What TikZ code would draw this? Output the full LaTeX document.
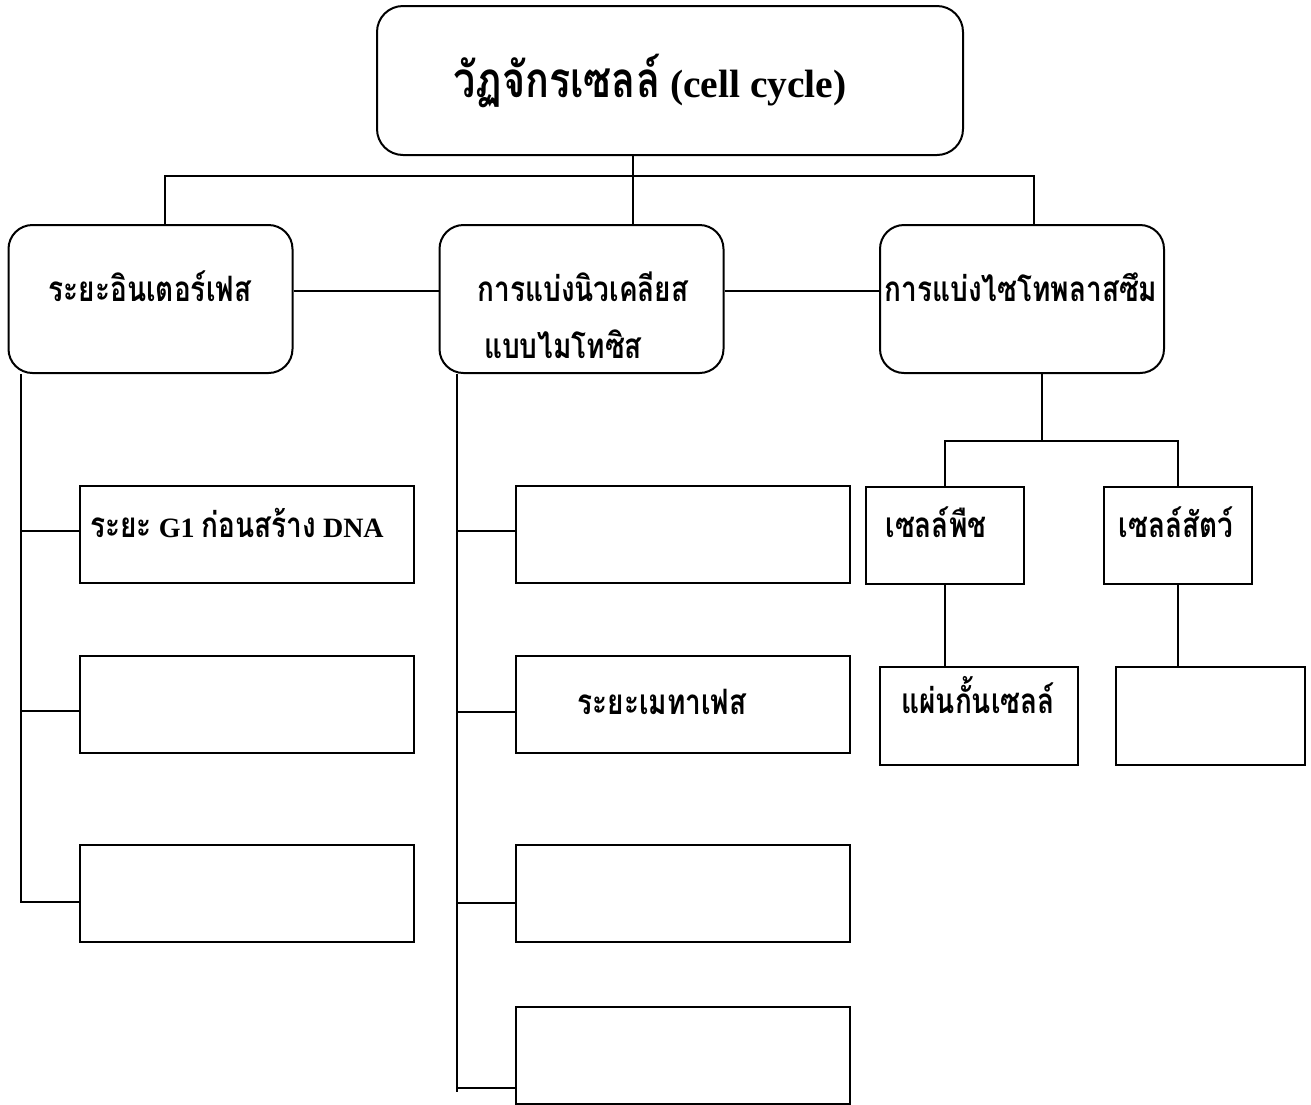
\documentclass[tikz,border=0pt]{standalone}
\usepackage{fontspec}
\setmainfont{Liberation Serif}
\newfontfamily\thai[Script=Thai]{Loma}
\newcommand{\tha}[1]{\scalebox{1}[1.25]{\thai #1}}
\begin{document}
\begin{tikzpicture}[x=1pt,y=-1pt,line width=2pt,
  rbox/.style={draw,rounded corners=24,minimum width=284,minimum height=148,inner sep=0},
  sbox/.style={draw,minimum width=334,minimum height=97,inner sep=0},
  lbl/.style={anchor=base,inner sep=0,font=\bfseries\fontsize{28}{32}\selectfont},
  ttl/.style={anchor=base,inner sep=0,font=\bfseries\fontsize{39.5}{44}\selectfont}]
\clip (0,0) rectangle (1311,1104);
% top
\node[draw,rounded corners=26,minimum width=586,minimum height=149,inner sep=0] (top) at (670,80.5) {};
\node[ttl] (ttext) at (650,97) {\tha{วัฏจักรเซลล์} (cell cycle)};
% level 2
\node[rbox] (L) at (150.5,299) {};
\node[rbox] (M) at (581.5,299) {};
\node[rbox] (R) at (1022,299) {};
\node[lbl] (Lt) at (150,301) {\tha{ระยะอินเตอร์เฟส}};
\node[lbl] (Mt1) at (583,301) {\tha{การแบ่งนิวเคลียส}};
\node[lbl,anchor=base west] (Mt2) at (483,358) {\tha{แบบไมโทซิส}};
\node[lbl] (Rt) at (1021,301) {\tha{การแบ่งไซโทพลาสซึม}};
% left column
\node[sbox] (l1) at (247,534) {};
\node[sbox] (l2) at (247,704) {};
\node[sbox] (l3) at (247,893) {};
\node[lbl] (l1t) at (237,537) {\tha{ระยะ} G1 \tha{ก่อนสร้าง} DNA};
% middle column
\node[sbox] (m1) at (683,534) {};
\node[sbox] (m2) at (683,704) {};
\node[sbox] (m3) at (683,893) {};
\node[sbox] (m4) at (683,1055) {};
\node[lbl] (m2t) at (662,714) {\tha{ระยะเมทาเฟส}};
% right column
\node[draw,minimum width=158,minimum height=97,inner sep=0] (P) at (945,535.5) {};
\node[draw,minimum width=148,minimum height=97,inner sep=0] (A) at (1178,535.5) {};
\node[draw,minimum width=198,minimum height=98,inner sep=0] (PB) at (979,716) {};
\node[draw,minimum width=189,minimum height=98,inner sep=0] (AB) at (1210.5,716) {};
\node[lbl] (Pt) at (936,537) {\tha{เซลล์พืช}};
\node[lbl] (At) at (1176,537) {\tha{เซลล์สัตว์}};
\node[lbl] (PBt) at (978,713) {\tha{แผ่นกั้นเซลล์}};
% connectors
\coordinate (j0) at (633,176);
\coordinate (bl) at (165,176);
\coordinate (br) at (1034,176);
\draw (top.south -| j0) -- (M.north -| j0);
\draw (L.north -| bl) -- (bl) -- (br) -- (R.north -| br);
\coordinate (hy) at (0,291);
\draw (L.east |- hy) -- (M.west |- hy);
\draw (M.east |- hy) -- (R.west |- hy);
% left spine
\coordinate (ls) at (21,902);
\draw (L.south -| ls) -- (ls) -- (l3.west |- ls);
\coordinate (lb1) at (21,531);
\coordinate (lb2) at (21,711);
\draw (lb1) -- (l1.west |- lb1);
\draw (lb2) -- (l2.west |- lb2);
% middle spine
\coordinate (ms) at (457,1092);
\draw (M.south -| ms) -- (ms);
\coordinate (mb1) at (457,531);
\coordinate (mb2) at (457,712);
\coordinate (mb3) at (457,903);
\coordinate (mb4) at (457,1088);
\draw (mb1) -- (m1.west |- mb1);
\draw (mb2) -- (m2.west |- mb2);
\draw (mb3) -- (m3.west |- mb3);
\draw (mb4) -- (m4.west |- mb4);
% right tree
\coordinate (rj) at (1042,441);
\draw (R.south -| rj) -- (rj);
\draw (P.north) |- (rj) -| (A.north);
\draw (P.south) -- (P.south |- PB.north);
\draw (A.south) -- (A.south |- AB.north);
\end{tikzpicture}
\end{document}
